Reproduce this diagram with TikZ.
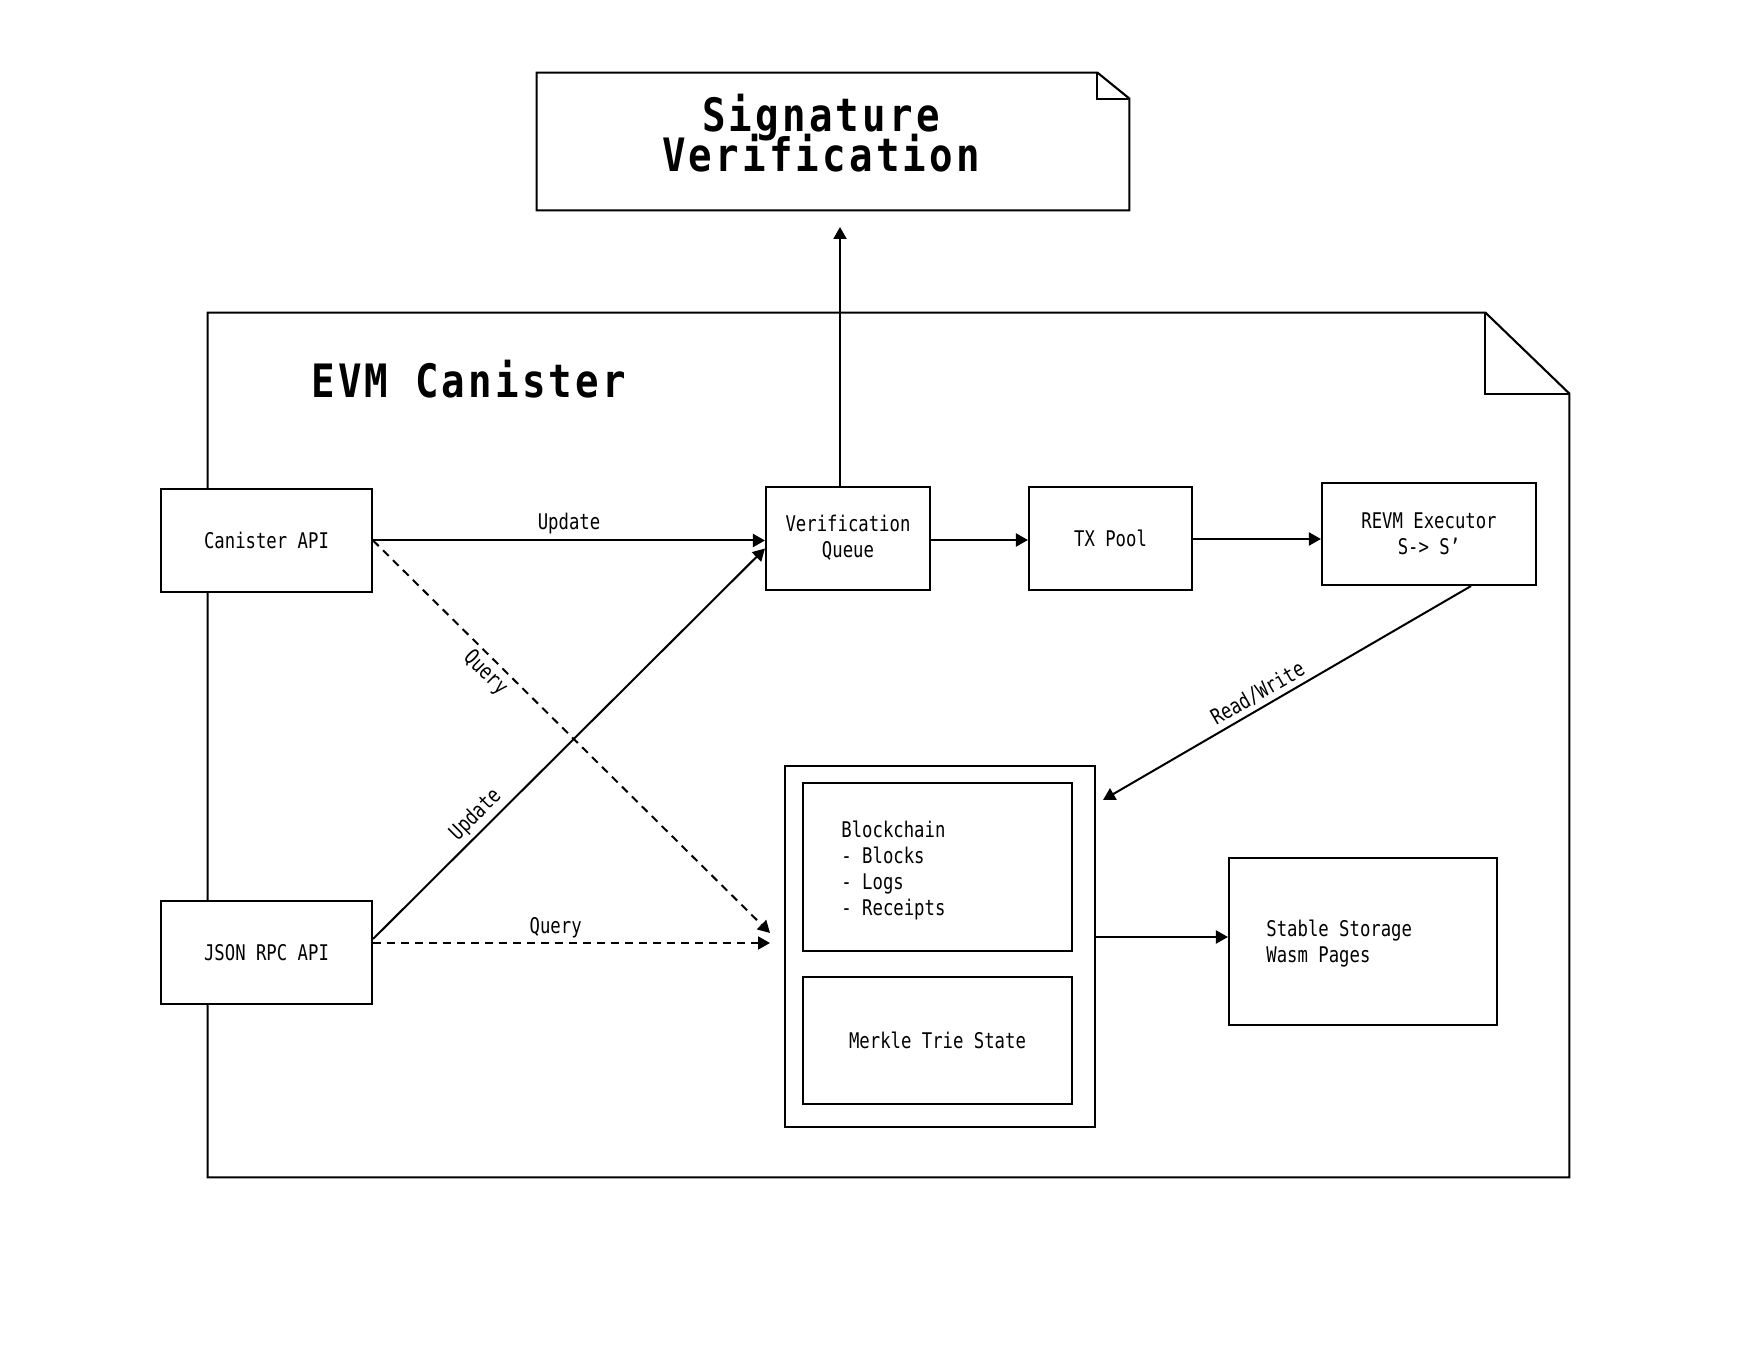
\documentclass[tikz,border=0pt]{standalone}
\usepackage{fontspec}
\usetikzlibrary{arrows.meta}
\newfontfamily\lblfont[FakeStretch=0.8]{DejaVu Sans Mono}
\newfontfamily\ttlfont[FakeStretch=0.85,LetterSpace=7]{DejaVu Sans Mono}
\newcommand\lblf{\lblfont\fontsize{10.8}{13}\selectfont}
\newcommand\ttlf{\ttlfont\bfseries\fontsize{23}{20}\selectfont\lineskiplimit=-20pt\relax}
\begin{document}
\begin{tikzpicture}[x=0.5pt,y=-0.5pt,
  box/.style={draw, line width=1.05pt, fill=white, inner sep=0pt, align=center, font=\lblf},
  frame/.style={line width=1.05pt},
  arr/.style={line width=1pt, -{Triangle[length=6pt,width=6.5pt]}},
  dsh/.style={arr, dash pattern=on 4pt off 3pt},
  lab/.style={font=\lblf, inner sep=2pt}]
\useasboundingbox (0,0) rectangle (1757,1347);

% Signature Verification note
\node[inner sep=0pt, minimum width=296pt, minimum height=68.5pt] (sig) at (833,141.5) {};
\draw[frame] (sig.north west) -- ([xshift=-16pt]sig.north east) -- ([yshift=-13pt]sig.north east) -- (sig.south east) -- (sig.south west) -- cycle;
\draw[frame] ([xshift=-16pt]sig.north east) -- ([xshift=-16pt,yshift=-13pt]sig.north east) -- ([yshift=-13pt]sig.north east);
\node[font=\ttlf, align=center] (sigtext) at (821,133.5) {Signature\\Verification};

% EVM Canister note
\node[inner sep=0pt, minimum width=680.5pt, minimum height=432pt] (evm) at (888.5,745) {};
\draw[frame] (evm.north west) -- ([xshift=-42pt]evm.north east) -- ([yshift=-40.5pt]evm.north east) -- (evm.south east) -- (evm.south west) -- cycle;
\draw[frame] ([xshift=-42pt]evm.north east) -- ([xshift=-42pt,yshift=-40.5pt]evm.north east) -- ([yshift=-40.5pt]evm.north east);
\node[font=\ttlf, anchor=base west, inner sep=0pt] (evmtext) at (311,398) {EVM Canister};

% boxes
\node[box, minimum width=105.5pt, minimum height=51.5pt] (ca) at (266.5,540.5) {Canister API};
\node[box, minimum width=105.5pt, minimum height=51.5pt] (json) at (266.5,952.5) {JSON RPC API};
\node[box, minimum width=82pt, minimum height=51.5pt, text depth=0.5ex] (vq) at (848,538.5) {Verification\\Queue};
\node[box, minimum width=81.5pt, minimum height=51.5pt] (tx) at (1110.5,538.5) {TX Pool};
\node[box, minimum width=107pt, minimum height=51pt] (revm) at (1429,534) {REVM Executor\\S-> S’};
\node[box, minimum width=155pt, minimum height=180.5pt] (store) at (940,946.5) {};
\node[box, minimum width=134.5pt, minimum height=84pt] (bc) at (937.5,867) {};
\node[lab, anchor=west, align=left, inner sep=0pt] (bctext) at (841,870.5) {Blockchain\\- Blocks\\- Logs\\- Receipts};
\node[box, minimum width=134.5pt, minimum height=63.5pt] (mk) at (937.5,1040.5) {Merkle Trie State};
\node[box, minimum width=134pt, minimum height=83.5pt] (stable) at (1363,941.5) {};
\node[lab, anchor=west, align=left, inner sep=0pt] (sttext) at (1266,944) {Stable Storage\\Wasm Pages};

% free ends
\coordinate (sigin) at (840,227);
\coordinate (q1) at (770,933);
\coordinate (q2) at (770,943);
\coordinate (rw) at (1103,800);

% connectors
\draw[arr] (vq.north -| sigin) -- (sigin);
\draw[arr] (ca.east) -- node[lab, above, yshift=1pt] {Update} (ca.east -| vq.west);
\draw[dsh] (ca.east) -- node[lab, pos=0.31, below, rotate=-45] {Query} (q1);
\draw[arr] ([yshift=6.75pt]json.east) -- node[lab, pos=0.29, above, rotate=45] {Update} ([yshift=-5pt]vq.west);
\draw[dsh] ([yshift=4.75pt]json.east) -- node[lab, pos=0.46, above] {Query} (q2);
\draw[arr] ([yshift=-0.75pt]vq.east) -- ([yshift=-0.75pt]vq.east -| tx.west);
\draw[arr] ([yshift=-0.25pt]tx.east) -- ([yshift=-0.25pt]tx.east -| revm.west);
\draw[arr] ([xshift=21pt]revm.south) -- node[lab, pos=0.56, above, rotate=30] {Read/Write} (rw);
\draw[arr] ([yshift=4.75pt]store.east) -- ([yshift=4.75pt]store.east -| stable.west);
\end{tikzpicture}
\end{document}
